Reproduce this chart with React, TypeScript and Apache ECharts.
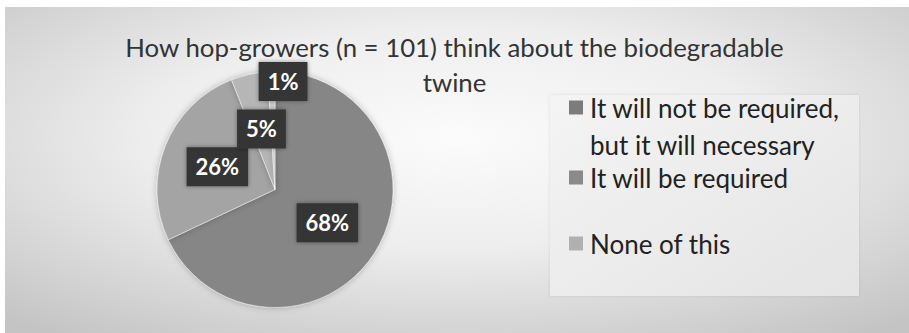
import React, { useEffect, useRef } from 'react';
import * as echarts from 'echarts';

const titleText = 'How hop-growers (n = 101) think about the biodegradable\ntwine';
const categories = ['It will not be required,\nbut it will necessary', 'It will be required', ' ', 'None of this'];
const values = [68, 26, 5, 1];
const sliceColors = ['#868686', '#a4a4a4', '#b6b6b6', '#cbcbcb'];
const legendColors = ['#7c7c7c', '#8a8a8a', '#ffffff', '#b0b0b0'];

export default function App() {
  const ref = useRef<HTMLDivElement>(null);
  useEffect(() => {
    const chart = echarts.init(ref.current!, null, { renderer: 'svg' });
    const font = 'Lato, "Open Sans", sans-serif';
    chart.setOption({
      animation: false,
      backgroundColor: '#ffffff',
      title: {
        text: titleText,
        left: 'center',
        top: 29,
        padding: 0,
        textStyle: { fontFamily: font, fontSize: 25.8, fontWeight: 'normal', color: '#333333', lineHeight: 35 },
      },
      legend: {
        orient: 'vertical',
        left: 564,
        top: 47,
        itemWidth: 14,
        itemHeight: 14,
        itemGap: -4,
        icon: 'rect',
        selectedMode: false,
        data: categories.map((name, i) => ({
          name,
          itemStyle: { color: legendColors[i], opacity: name.trim() === '' ? 0 : 1, borderWidth: 0 },
        })),
        formatter: (name: string) => (name.indexOf('\n') >= 0 ? '\n' + name : name),
        textStyle: { fontFamily: font, fontSize: 26, color: '#222222', lineHeight: 37, padding: [0, 0, 0, 2] },
      },
      graphic: [
        {
          type: 'rect',
          z: -10,
          silent: true,
          shape: { x: 5, y: 7, width: 904, height: 326 },
          style: {
            fill: new echarts.graphic.RadialGradient(0.5, 0.4, 0.75, [
              { offset: 0, color: '#fbfbfb' },
              { offset: 0.45, color: '#eeeeee' },
              { offset: 1, color: '#c4c4c4' },
            ]),
          },
        },
        {
          type: 'rect',
          z: -5,
          silent: true,
          shape: { x: 550, y: 95, width: 309, height: 201 },
          style: {
            fill: new echarts.graphic.LinearGradient(0, 0, 1, 1, [
              { offset: 0, color: '#f4f4f4' },
              { offset: 1, color: '#e4e4e4' },
            ]),
            shadowBlur: 3,
            shadowColor: 'rgba(0,0,0,0.1)',
          },
        },
      ],
      series: [
        {
          type: 'pie',
          center: [275, 189.5],
          radius: [0, 118],
          startAngle: 90,
          clockwise: true,
          avoidLabelOverlap: false,
          data: categories.map((name, i) => ({ name, value: values[i], itemStyle: { color: sliceColors[i] } })),
          itemStyle: { borderColor: 'rgba(255,255,255,0.45)', borderWidth: 1, shadowBlur: 6, shadowColor: 'rgba(0,0,0,0.25)' },
          label: {
            show: true,
            position: 'inside',
            formatter: '{c}%',
            color: '#ffffff',
            fontFamily: font,
            fontSize: 22,
            fontWeight: 'bold',
            backgroundColor: '#363636',
            padding: [9, 9, 8, 9],
            shadowBlur: 4,
            shadowColor: 'rgba(0,0,0,0.4)',
          },
          labelLine: { show: false },
          labelLayout: (params: any) => (params.dataIndex === 3 ? { dx: 10, dy: -46 } : {}),
        },
      ],
    });
    return () => chart.dispose();
  }, []);
  return <div ref={ref} style={{ position: 'fixed', left: 0, top: 0, width: 909, height: 333 }} />;
}
